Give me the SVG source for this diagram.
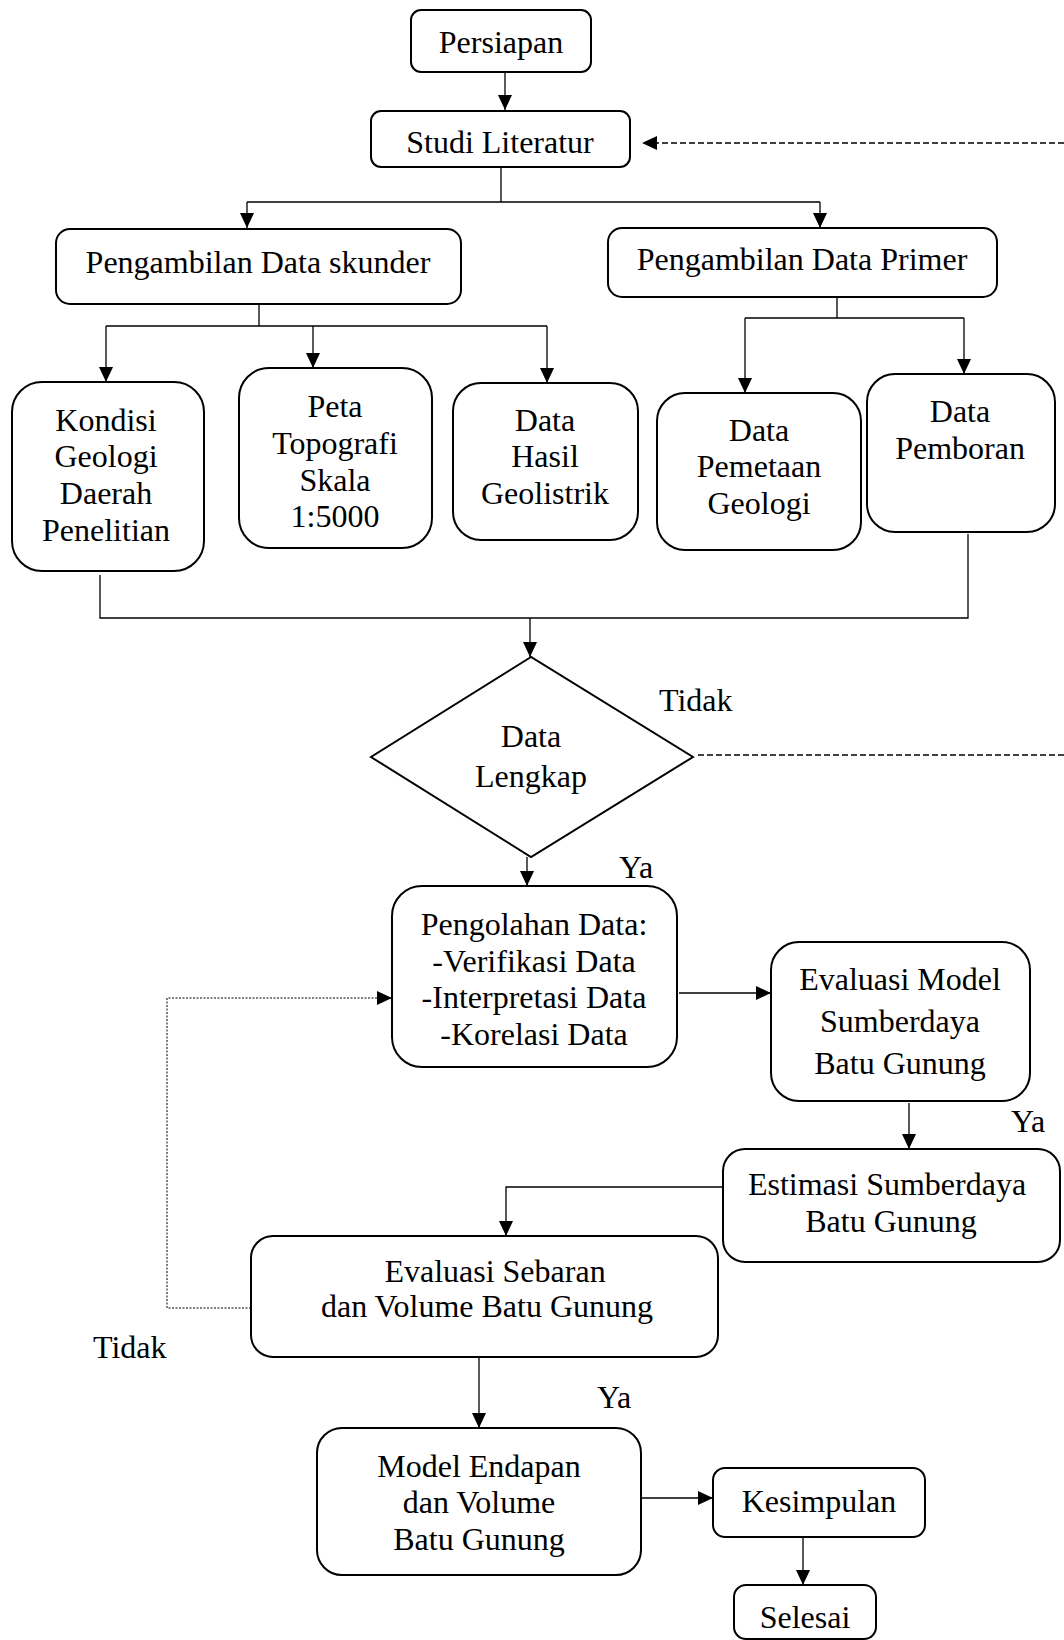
<svg xmlns="http://www.w3.org/2000/svg" width="1064" height="1640" viewBox="0 0 1064 1640">
<style>
.box{fill:#fff;stroke:#000;stroke-width:2}
.t{font-family:"Liberation Serif","Times New Roman",serif;font-size:32px;fill:#000;text-anchor:middle}
.l{font-family:"Liberation Serif","Times New Roman",serif;font-size:32px;fill:#000}
.c{fill:none;stroke:#000;stroke-width:1.3}
.dash{fill:none;stroke:#000;stroke-width:1.5;stroke-dasharray:6 3}
.dot{fill:none;stroke:#000;stroke-width:1;stroke-dasharray:2 1.5}
</style>
<defs>
<marker id="ah" markerUnits="userSpaceOnUse" markerWidth="15" markerHeight="14" refX="15" refY="7" orient="auto"><path d="M0,0 L15,7 L0,14 z" fill="#000"/></marker>
</defs>
<rect width="1064" height="1640" fill="#fff"/>
<g id="connectors">
<path class="c" d="M505,72 V110" marker-end="url(#ah)"/>
<path class="c" d="M501,167 V202 M247,202 H820"/>
<path class="c" d="M247,202 V228" marker-end="url(#ah)"/>
<path class="c" d="M820,202 V228" marker-end="url(#ah)"/>
<path class="c" d="M259,304 V326 M106,326 H547"/>
<path class="c" d="M106,326 V382" marker-end="url(#ah)"/>
<path class="c" d="M313,326 V368" marker-end="url(#ah)"/>
<path class="c" d="M547,326 V383" marker-end="url(#ah)"/>
<path class="c" d="M837,297 V318 M745,318 H964"/>
<path class="c" d="M745,318 V393" marker-end="url(#ah)"/>
<path class="c" d="M964,318 V374" marker-end="url(#ah)"/>
<path class="c" d="M100,575 V618 H968 V534"/>
<path class="c" d="M530,618 V657" marker-end="url(#ah)"/>
<path class="c" d="M527,857 V886" marker-end="url(#ah)"/>
<path class="c" d="M679,993 H771" marker-end="url(#ah)"/>
<path class="c" d="M909,1103 V1149" marker-end="url(#ah)"/>
<path class="c" d="M723,1187 H506 V1236" marker-end="url(#ah)"/>
<path class="c" d="M479,1357 V1428" marker-end="url(#ah)"/>
<path class="c" d="M642,1498 H713" marker-end="url(#ah)"/>
<path class="c" d="M803,1538 V1585" marker-end="url(#ah)"/>
<path class="dash" d="M698,755 H1064"/>
<path class="dash" d="M1064,143 H642" marker-end="url(#ah)"/>
<path class="dot" d="M251,1308 H167 V998 H392" marker-end="url(#ah)"/>
</g>
<g id="persiapan"><rect class="box" x="411" y="10" width="180" height="62" rx="10"/><text class="t" x="501" y="53">Persiapan</text></g>
<g id="studi"><rect class="box" x="371" y="111" width="259" height="56" rx="10"/><text class="t" x="500" y="153">Studi Literatur</text></g>
<g id="skunder"><rect class="box" x="56" y="229" width="405" height="75" rx="14"/><text class="t" x="258" y="273">Pengambilan Data skunder</text></g>
<g id="primer"><rect class="box" x="608" y="228" width="389" height="69" rx="14"/><text class="t" x="802" y="270">Pengambilan Data Primer</text></g>
<g id="kondisi"><rect class="box" x="12" y="382" width="192" height="189" rx="30"/><text class="t" x="106" y="431">Kondisi</text><text class="t" x="106" y="467">Geologi</text><text class="t" x="106" y="504">Daerah</text><text class="t" x="106" y="541">Penelitian</text></g>
<g id="peta"><rect class="box" x="239" y="368" width="193" height="180" rx="30"/><text class="t" x="335" y="417">Peta</text><text class="t" x="335" y="454">Topografi</text><text class="t" x="335" y="491">Skala</text><text class="t" x="335" y="527">1:5000</text></g>
<g id="geolistrik"><rect class="box" x="453" y="383" width="185" height="157" rx="28"/><text class="t" x="545" y="431">Data</text><text class="t" x="545" y="467">Hasil</text><text class="t" x="545" y="504">Geolistrik</text></g>
<g id="pemetaan"><rect class="box" x="657" y="393" width="204" height="157" rx="28"/><text class="t" x="759" y="441">Data</text><text class="t" x="759" y="477">Pemetaan</text><text class="t" x="759" y="514">Geologi</text></g>
<g id="pemboran"><rect class="box" x="867" y="374" width="188" height="158" rx="28"/><text class="t" x="960" y="422">Data</text><text class="t" x="960" y="459">Pemboran</text></g>
<g id="lengkap"><polygon class="box" points="531,657 371,757 531,857 693,757"/><text class="t" x="531" y="747">Data</text><text class="t" x="531" y="787">Lengkap</text></g>
<g id="pengolahan"><rect class="box" x="392" y="886" width="285" height="181" rx="30"/><text class="t" x="534" y="935">Pengolahan Data:</text><text class="t" x="534" y="972">-Verifikasi Data</text><text class="t" x="534" y="1008">-Interpretasi Data</text><text class="t" x="534" y="1045">-Korelasi Data</text></g>
<g id="evaluasi-model"><rect class="box" x="771" y="942" width="259" height="159" rx="28"/><text class="t" x="900" y="990">Evaluasi Model</text><text class="t" x="900" y="1032">Sumberdaya</text><text class="t" x="900" y="1074">Batu Gunung</text></g>
<g id="estimasi"><rect class="box" x="723" y="1149" width="337" height="113" rx="22"/><text class="t" x="887" y="1195">Estimasi Sumberdaya</text><text class="t" x="891" y="1232">Batu Gunung</text></g>
<g id="sebaran"><rect class="box" x="251" y="1236" width="467" height="121" rx="22"/><text class="t" x="495" y="1282">Evaluasi Sebaran</text><text class="t" x="487" y="1317">dan Volume Batu Gunung</text></g>
<g id="model-endapan"><rect class="box" x="317" y="1428" width="324" height="147" rx="25"/><text class="t" x="479" y="1477">Model Endapan</text><text class="t" x="479" y="1513">dan Volume</text><text class="t" x="479" y="1550">Batu Gunung</text></g>
<g id="kesimpulan"><rect class="box" x="713" y="1468" width="212" height="69" rx="12"/><text class="t" x="819" y="1512">Kesimpulan</text></g>
<g id="selesai"><rect class="box" x="734" y="1585" width="142" height="54" rx="12"/><text class="t" x="805" y="1628">Selesai</text></g>
<g id="labels">
<text class="l" x="659" y="711">Tidak</text>
<text class="l" x="619" y="878">Ya</text>
<text class="l" x="1011" y="1132">Ya</text>
<text class="l" x="93" y="1358">Tidak</text>
<text class="l" x="597" y="1408">Ya</text>
</g>
</svg>
